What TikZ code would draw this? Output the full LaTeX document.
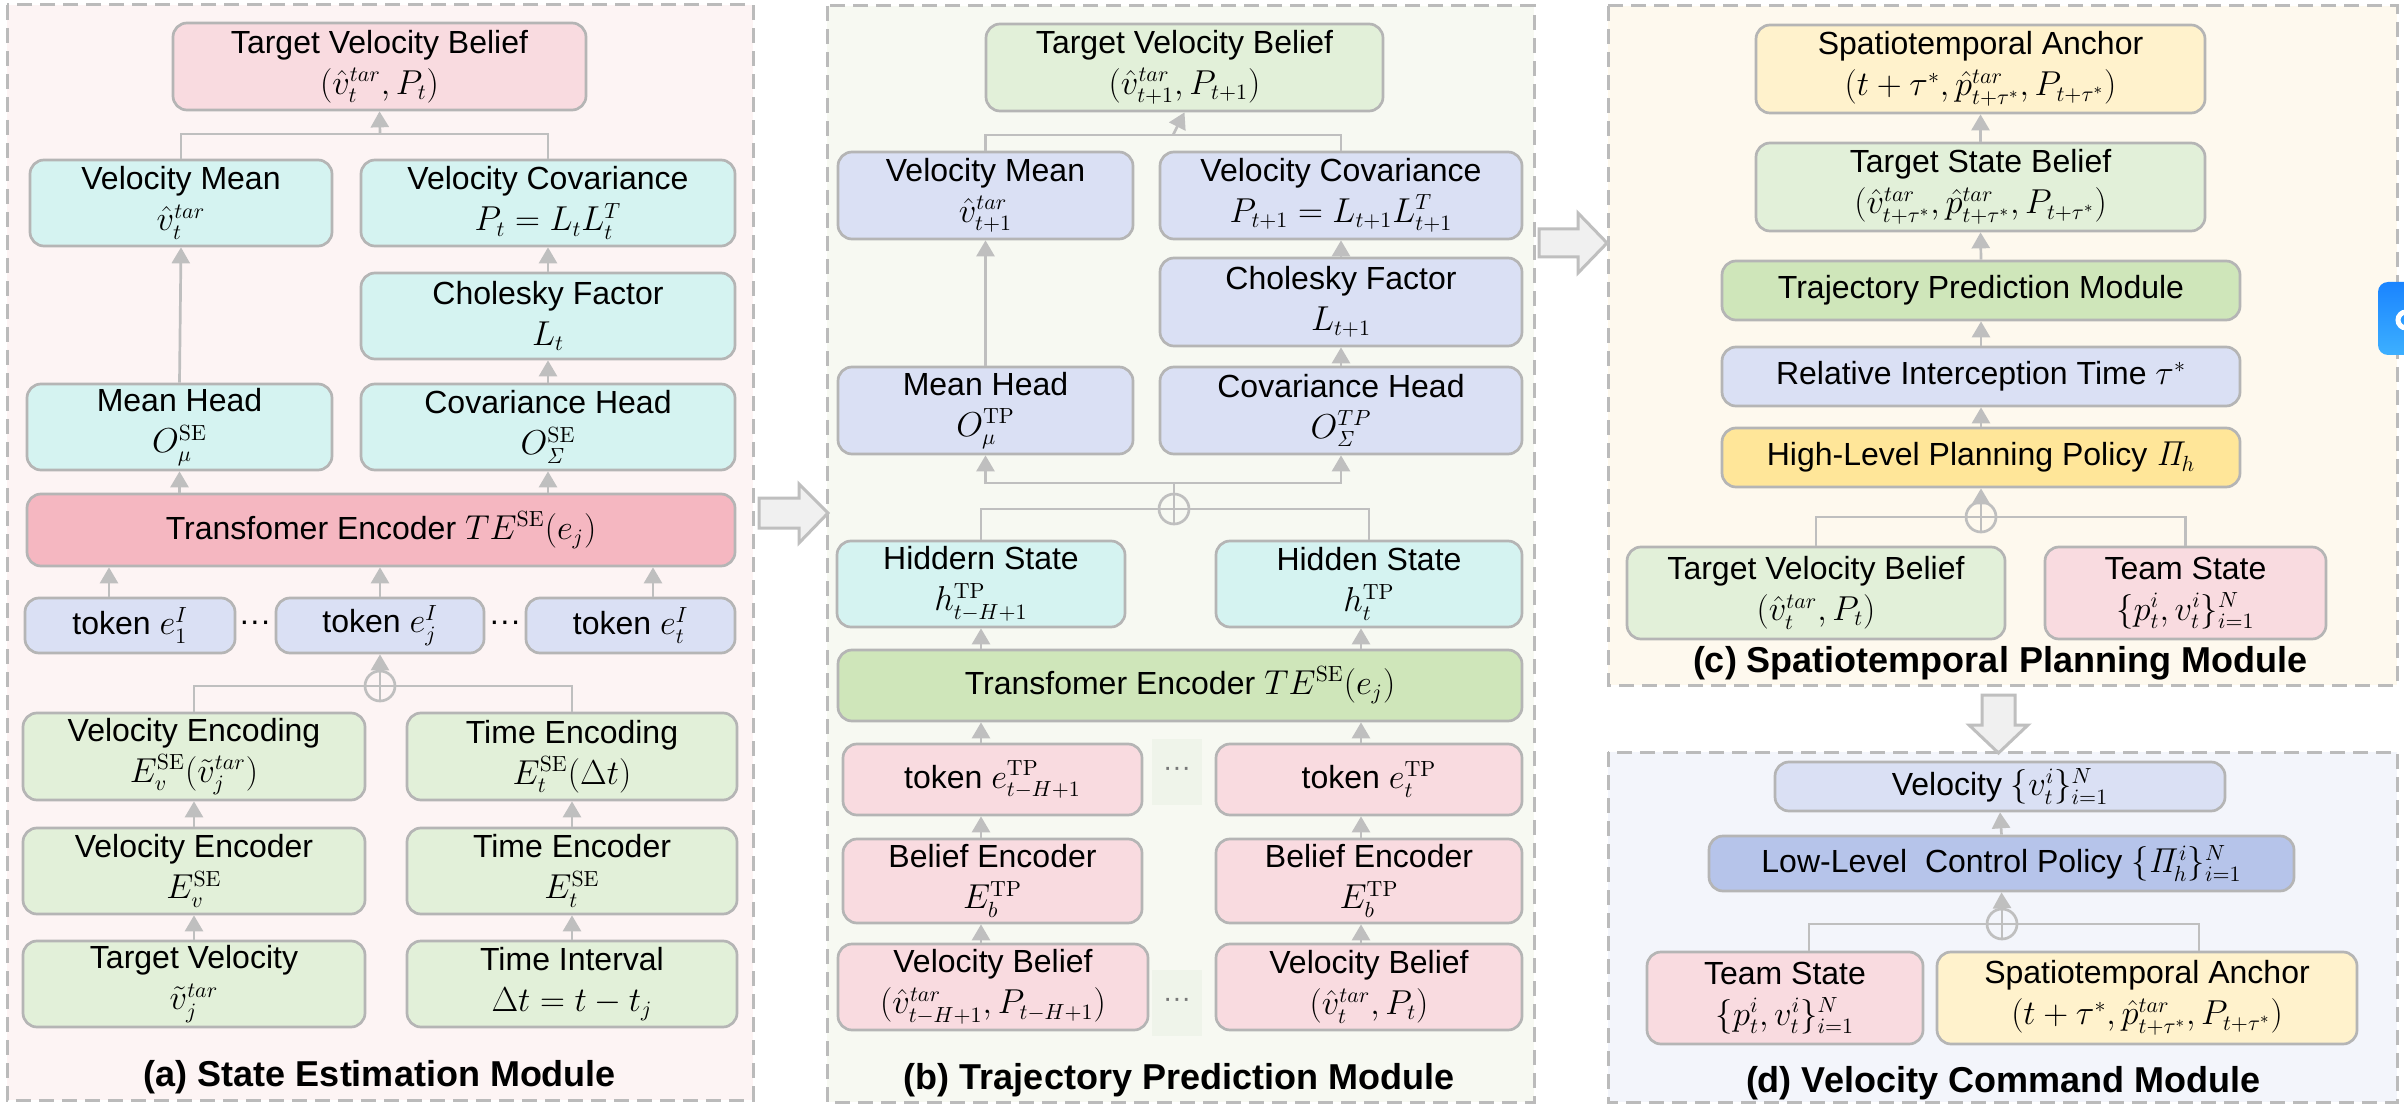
\documentclass[tikz,border=0pt]{standalone}
\usepackage[no-math]{fontspec}
\setmainfont{Liberation Sans}
\usetikzlibrary{arrows.meta,calc}
\definecolor{bgA}{HTML}{FDF4F4}
\definecolor{bgB}{HTML}{F7F9F2}
\definecolor{bgC}{HTML}{FEF9EE}
\definecolor{bgD}{HTML}{F3F5FB}
\definecolor{pinkL}{HTML}{F9DBE0}
\definecolor{pinkD}{HTML}{F5B7C1}
\definecolor{cyanL}{HTML}{D5F3F1}
\definecolor{lav}{HTML}{DAE0F4}
\definecolor{greenL}{HTML}{E2F0D9}
\definecolor{greenD}{HTML}{CFE6BA}
\definecolor{yelL}{HTML}{FFF2CC}
\definecolor{yelD}{HTML}{FFE699}
\definecolor{blueD}{HTML}{B6C4EA}
\definecolor{bord}{HTML}{B5B5B5}
\definecolor{agray}{HTML}{BFBFBF}
\definecolor{pgray}{HTML}{BBBBBB}
\definecolor{dotbg}{HTML}{EFF4EA}
\definecolor{dotgray}{HTML}{777777}
\definecolor{bigfill}{HTML}{F0F0F0}
\definecolor{wblueA}{HTML}{1A84FF}
\definecolor{wblueB}{HTML}{3DB0FF}
\newcommand{\bx}[7]{\node[bx, fill=#6, minimum width={(#4-#2)*0.5pt}, minimum height={(#5-#3)*0.5pt}] (#1) at ({(#2+#4)/2},{(#3+#5)/2}) {#7};}
\begin{document}
\begin{tikzpicture}[x=0.5pt,y=-0.5pt,
  bx/.style={draw=bord, line width=1.35pt, rounded corners=7pt, align=center, inner sep=0pt, font=\fontsize{16}{20.5}\selectfont},
  arr/.style={draw=agray, line width=1.35pt, -{Triangle[width=9pt,length=8pt]}},
  ln/.style={draw=agray, line width=1.35pt},
  panel/.style={draw=pgray, line width=1.5pt, dash pattern=on 7.5pt off 4pt},
  lbl/.style={font=\bfseries\fontsize{18}{21}\selectfont, inner sep=0pt},
  opl/.style={circle, draw=agray, line width=1.35pt, minimum size=15pt, inner sep=0pt,
    path picture={\draw[agray, line width=1.35pt] (path picture bounding box.north) -- (path picture bounding box.south) (path picture bounding box.west) -- (path picture bounding box.east);}},
  dotbox/.style={fill=dotbg, minimum width=25pt, minimum height=33pt, inner sep=0pt, text=dotgray, font=\fontsize{14}{16}\selectfont},
  big/.style={draw=agray, fill=bigfill, line width=1.5pt, line join=miter}
]
\useasboundingbox (0,0) rectangle (2404,1112);
\fill[white] (0,0) rectangle (2404,1112);

% panels
\draw[panel, fill=bgA] (7,5) rectangle (753,1100);
\draw[panel, fill=bgB] (827,6) rectangle (1534,1102);
\draw[panel, fill=bgC] (1608,6) rectangle (2397,685);
\draw[panel, fill=bgD] (1608,752) rectangle (2397,1102);

% big arrows
\draw[big] (759,498) -- (799,498) -- (799,484) -- (828,513) -- (799,543) -- (799,528) -- (759,528) -- cycle;
\draw[big] (1539,229) -- (1578,229) -- (1578,213) -- (1607,243) -- (1578,273) -- (1578,257) -- (1539,257) -- cycle;
\draw[big] (1982,695) -- (2015,695) -- (2015,725) -- (2028,725) -- (1998.5,753) -- (1969,725) -- (1982,725) -- cycle;

% ---------- (a) ----------
\bx{TVBa}{173}{23}{586}{110}{pinkL}{Target Velocity Belief\\$(\hat{v}_t^{tar}, P_t)$}
\bx{VMa}{30}{160}{332}{246}{cyanL}{Velocity Mean\\$\hat{v}_t^{tar}$}
\bx{VCa}{361}{160}{735}{246}{cyanL}{Velocity Covariance\\$P_t = L_tL_t^T$}
\bx{CFa}{361}{273}{735}{359}{cyanL}{Cholesky Factor\\$L_t$}
\bx{MHa}{27}{384}{332}{470}{cyanL}{Mean Head\\$O_\mu^{\mathrm{SE}}$}
\bx{CHa}{361}{384}{735}{470}{cyanL}{Covariance Head\\$O_{\mathit{\Sigma}}^{\mathrm{SE}}$}
\bx{TEa}{27}{494}{735}{566}{pinkD}{Transfomer Encoder $TE^{\mathrm{SE}}(e_j)$}
\bx{T1a}{25}{598}{235}{653}{lav}{token $e_1^I$}
\bx{Tja}{276}{598}{484}{653}{lav}{token $e_j^I$}
\bx{Tta}{526}{598}{735}{653}{lav}{token $e_t^I$}
\node[inner sep=0pt, font=\fontsize{16}{18}\selectfont] (dA1) at (255,626) {···};
\node[inner sep=0pt, font=\fontsize{16}{18}\selectfont] (dA2) at (505,626) {···};
\bx{VEa}{23}{713}{365}{800}{greenL}{Velocity Encoding\\$E_v^{\mathrm{SE}}(\tilde{v}_j^{tar})$}
\bx{TEna}{407}{713}{737}{800}{greenL}{Time Encoding\\$E_t^{\mathrm{SE}}(\Delta t)$}
\bx{VERa}{23}{828}{365}{914}{greenL}{Velocity Encoder\\$E_v^{\mathrm{SE}}$}
\bx{TERa}{407}{828}{737}{914}{greenL}{Time Encoder\\$E_t^{\mathrm{SE}}$}
\bx{TVa}{23}{941}{365}{1027}{greenL}{Target Velocity\\$\tilde{v}_j^{tar}$}
\bx{TIa}{407}{941}{737}{1027}{greenL}{Time Interval\\$\Delta t = t - t_j$}
\node[opl, fill=bgA] (opa) at (380,686) {};
\node[lbl] (la) at (380,1077) {(a) State Estimation Module};

\coordinate (ja) at (380,134);
\draw[ln] (VMa.north) |- (ja) -| (VCa.north);
\draw[arr] (ja) -- (TVBa.south);
\draw[arr] (MHa.north) -- (VMa.south);
\draw[arr] (CFa.north) -- (VCa.south);
\draw[arr] (CHa.north) -- (CFa.south);
\draw[arr] (TEa.north -| MHa.north) -- (MHa.south);
\draw[arr] (TEa.north -| CHa.north) -- (CHa.south);
\draw[arr] ([xshift=-10.5pt]T1a.north) -- ([xshift=-10.5pt]T1a.north |- TEa.south);
\draw[arr] (Tja.north) -- (Tja.north |- TEa.south);
\draw[arr] ([xshift=11.25pt]Tta.north) -- ([xshift=11.25pt]Tta.north |- TEa.south);
\draw[ln] (VEa.north) |- (opa.west);
\draw[ln] (TEna.north) |- (opa.east);
\draw[arr] (opa.north) -- (Tja.south);
\draw[arr] (VERa.north) -- (VEa.south);
\draw[arr] (TERa.north) -- (TEna.south);
\draw[arr] (TVa.north) -- (VERa.south);
\draw[arr] (TIa.north) -- (TERa.south);

% ---------- (b) ----------
\bx{TVBb}{986}{24}{1383}{111}{greenL}{Target Velocity Belief\\$(\hat{v}_{t+1}^{tar}, P_{t+1})$}
\bx{VMb}{838}{152}{1133}{239}{lav}{Velocity Mean\\$\hat{v}_{t+1}^{tar}$}
\bx{VCb}{1160}{152}{1522}{239}{lav}{Velocity Covariance\\$P_{t+1} = L_{t+1}L_{t+1}^T$}
\bx{CFb}{1160}{258}{1522}{346}{lav}{Cholesky Factor\\$L_{t+1}$}
\bx{MHb}{838}{367}{1133}{454}{lav}{Mean Head\\$O_\mu^{\mathrm{TP}}$}
\bx{CHb}{1160}{367}{1522}{454}{lav}{Covariance Head\\$O_{\mathit{\Sigma}}^{TP}$}
\bx{HSlb}{837}{541}{1125}{627}{cyanL}{Hiddern State\\$h_{t-H+1}^{\mathrm{TP}}$}
\bx{HSrb}{1216}{541}{1522}{627}{cyanL}{Hidden State\\$h_t^{\mathrm{TP}}$}
\bx{TEb}{838}{650}{1522}{721}{greenD}{Transfomer Encoder $TE^{\mathrm{SE}}(e_j)$}
\bx{TKlb}{843}{744}{1142}{815}{pinkL}{token $e_{t-H+1}^{\mathrm{TP}}$}
\bx{TKrb}{1216}{744}{1522}{815}{pinkL}{token $e_t^{\mathrm{TP}}$}
\bx{BElb}{843}{839}{1142}{923}{pinkL}{Belief Encoder\\$E_b^{\mathrm{TP}}$}
\bx{BErb}{1216}{839}{1522}{923}{pinkL}{Belief Encoder\\$E_b^{\mathrm{TP}}$}
\bx{VBlb}{838}{944}{1148}{1030}{pinkL}{Velocity Belief\\$(\hat{v}_{t-H+1}^{tar}, P_{t-H+1})$}
\bx{VBrb}{1216}{944}{1522}{1030}{pinkL}{Velocity Belief\\$(\hat{v}_t^{tar}, P_t)$}
\node[dotbox] (dB1) at (1177,772) {···};
\node[dotbox] (dB2) at (1177,1003) {···};
\node[opl, fill=bgB] (opb) at (1174,509) {};
\node[lbl] (lb) at (1179,1080) {(b) Trajectory Prediction Module};

\coordinate (jb) at (1173,135);
\draw[ln] (VMb.north) |- (jb) -| (VCb.north);
\draw[arr] (jb) -- (TVBb.south);
\draw[arr] (MHb.north) -- (VMb.south);
\draw[arr] (CFb.north) -- (VCb.south);
\draw[arr] (CHb.north) -- (CFb.south);
\coordinate (kb) at (1174,483);
\draw[ln] (opb.north) -- (kb);
\draw[arr] (kb) -| (MHb.south);
\draw[arr] (kb) -| (CHb.south);
\draw[ln] (HSlb.north) |- (opb.west);
\draw[ln] (HSrb.north) |- (opb.east);
\draw[arr] (TEb.north -| HSlb.south) -- (HSlb.south);
\draw[arr] ([xshift=-4pt]TEb.north -| HSrb.south) -- ([xshift=-4pt]HSrb.south);
\draw[arr] (TKlb.north -| HSlb.south) -- (TEb.south -| HSlb.south);
\draw[arr] ([xshift=-4pt]TKrb.north) -- ([xshift=-4pt]TKrb.north |- TEb.south);
\draw[arr] (BElb.north -| HSlb.south) -- (TKlb.south -| HSlb.south);
\draw[arr] ([xshift=-4pt]BErb.north) -- ([xshift=-4pt]TKrb.south);
\draw[arr] (VBlb.north -| HSlb.south) -- (BElb.south -| HSlb.south);
\draw[arr] ([xshift=-4pt]VBrb.north) -- ([xshift=-4pt]BErb.south);

% ---------- (c) ----------
\bx{SAc}{1756}{25}{2205}{113}{yelL}{Spatiotemporal Anchor\\$(t+\tau^*, \hat{p}_{t+\tau^*}^{tar}, P_{t+\tau^*})$}
\bx{TSBc}{1756}{143}{2205}{231}{greenL}{Target State Belief\\$(\hat{v}_{t+\tau^*}^{tar}, \hat{p}_{t+\tau^*}^{tar}, P_{t+\tau^*})$}
\bx{TPMc}{1722}{261}{2240}{320}{greenD}{Trajectory Prediction Module}
\bx{RITc}{1722}{347}{2240}{406}{lav}{Relative Interception Time $\tau^*$}
\bx{HLc}{1722}{428}{2240}{487}{yelD}{High-Level Planning Policy $\mathit{\Pi}_h$}
\bx{TVBc}{1627}{547}{2005}{639}{greenL}{Target Velocity Belief\\$(\hat{v}_t^{tar}, P_t)$}
\bx{TSc}{2045}{547}{2326}{639}{pinkL}{Team State\\$\{p_t^i, v_t^i\}_{i=1}^N$}
\node[opl, fill=bgC] (opc) at (1981,517) {};
\node[lbl] (lc) at (2000,663) {(c) Spatiotemporal Planning Module};

\draw[arr] (TSBc.north) -- (SAc.south);
\draw[arr] (TPMc.north) -- (TSBc.south);
\draw[arr] (RITc.north) -- (TPMc.south);
\draw[arr] (HLc.north) -- (RITc.south);
\draw[arr] (opc.north) -- (HLc.south);
\draw[ln] (TVBc.north) |- (opc.west);
\draw[ln] (TSc.north) |- (opc.east);

% ---------- (d) ----------
\bx{Vd}{1775}{762}{2225}{811}{lav}{Velocity $\{v_t^i\}_{i=1}^N$}
\bx{LLd}{1709}{836}{2294}{891}{blueD}{Low-Level\ \ Control Policy $\{\mathit{\Pi}_h^i\}_{i=1}^N$}
\bx{TSd}{1647}{952}{1923}{1044}{pinkL}{Team State\\$\{p_t^i, v_t^i\}_{i=1}^N$}
\bx{SAd}{1937}{952}{2357}{1044}{yelL}{Spatiotemporal Anchor\\$(t+\tau^*, \hat{p}_{t+\tau^*}^{tar}, P_{t+\tau^*})$}
\node[opl, fill=bgD] (opd) at (2002,924) {};
\node[lbl] (ld) at (2003,1083) {(d) Velocity Command Module};

\draw[arr] (LLd.north) -- (Vd.south);
\draw[arr] (opd.north) -- (LLd.south);
\draw[ln] ([xshift=12pt]TSd.north) |- (opd.west);
\draw[ln] ([xshift=26pt]SAd.north) |- (opd.east);

% widget at the right edge
\shade[top color=wblueA, bottom color=wblueB, rounded corners=5pt] (2378,282) rectangle (2430,355);
\draw[white, line width=2.5pt] (2406,320) circle (8);
\end{tikzpicture}
\end{document}
